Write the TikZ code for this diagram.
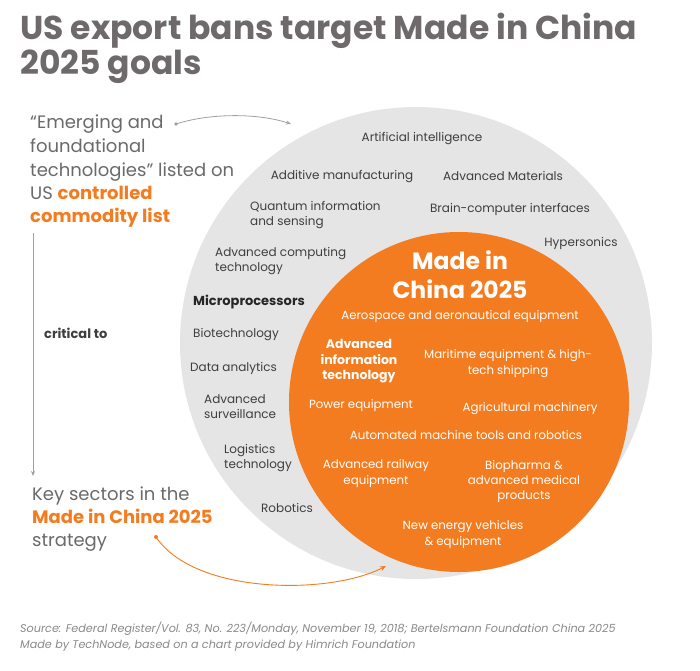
\documentclass[tikz,border=0pt]{standalone}
\usepackage{fontspec}
\setmainfont{Poppins}
\usetikzlibrary{arrows.meta}
\definecolor{corange}{HTML}{F47C20}
\definecolor{cgreyc}{HTML}{E6E5E6}
\definecolor{ctitle}{HTML}{6E6A6B}
\definecolor{cdark}{HTML}{3E3E3E}
\definecolor{clabel}{HTML}{6A6A6A}
\definecolor{cfoot}{HTML}{8A8A8A}
\definecolor{carrow}{HTML}{A0A0A0}
\tikzset{
  gt/.style={font=\fontsize{12}{15}\selectfont, text=cdark, align=center, inner sep=0pt, yshift=-2.5pt},
  gtl/.style={gt, align=left, anchor=west},
  gbl/.style={gt, align=left, anchor=north west},
  wt/.style={font=\fontsize{11.8}{15.2}\selectfont, text=white, align=center, inner sep=0pt, yshift=-2.5pt},
  lab/.style={font=\fontsize{18}{23}\selectfont, text=clabel, inner sep=0pt, anchor=base west},
  ttl/.style={font=\fontsize{33}{35}\selectfont\bfseries, text=ctitle, inner sep=0pt, anchor=base west},
  ft/.style={font=\fontsize{11.2}{16}\selectfont\itshape, text=cfoot, inner sep=0pt, anchor=base west},
}
\begin{document}
\begin{tikzpicture}[x=1pt,y=-1pt]
\useasboundingbox (0,0) rectangle (700,670);
\fill[white] (0,0) rectangle (700,670);
% title
\node[ttl] (title1) at (20,39) {US export bans target Made in China};
\node[ttl] (title2) at (20,74) {2025 goals};
% circles
\fill[cgreyc] (416,343) circle (236);
\fill[corange] (459,402) circle (170);
% grey texts
\node[gt] (ai) at (422,136) {Artificial intelligence};
\node[gt] (am) at (342,174) {Additive manufacturing};
\node[gt] (amat) at (503,173) {Advanced Materials};
\node[gbl] (qi) at (250,199) {Quantum information\\and sensing};
\node[gt] (bci) at (510,207) {Brain-computer interfaces};
\node[gt] (hyp) at (581,241) {Hypersonics};
\node[gbl] (acp) at (215,245) {Advanced computing\\technology};
\node[gtl, font=\fontsize{13}{15}\selectfont\bfseries, text=black!85] (mp) at (193,300) {Microprocessors};
\node[gtl] (bio) at (193,332) {Biotechnology};
\node[gtl] (da) at (190,366) {Data analytics};
\node[gbl] (as) at (204,392) {Advanced\\surveillance};
\node[gbl] (lt) at (224,442) {Logistics\\technology};
\node[gt] (rob) at (287,505) {Robotics};
% orange texts
\node[wt, font=\fontsize{23.5}{29}\selectfont\bfseries] (mic) at (460,272) {Made in\\China 2025};
\node[wt] (aero) at (460,314) {Aerospace and aeronautical equipment};
\node[wt, font=\fontsize{12.5}{15.5}\selectfont\bfseries] (ait) at (359,359) {Advanced\\information\\technology};
\node[wt] (mar) at (508,361) {Maritime equipment \& high-\\tech shipping};
\node[wt] (pow) at (361,403) {Power equipment};
\node[wt] (agr) at (530,406) {Agricultural machinery};
\node[wt] (amt) at (466,433) {Automated machine tools and robotics};
\node[wt] (rail) at (376,471) {Advanced railway\\equipment};
\node[wt] (bph) at (524,479) {Biopharma \&\\advanced medical\\products};
\node[wt] (nev) at (463,532) {New energy vehicles\\\& equipment};
% left labels
\node[lab] (emer1) at (30,128) {“Emerging and};
\node[lab] (emer2) at (30,152) {foundational};
\node[lab] (emer3) at (30,176) {technologies” listed on};
\node[lab] (emer4) at (30,199) {US \textcolor{corange}{\bfseries controlled}};
\node[lab, text=corange, font=\fontsize{18}{23}\selectfont\bfseries] (emer5) at (30,222) {commodity list};
\node[font=\fontsize{13}{15}\selectfont\bfseries, text=cdark, anchor=west, inner sep=0pt] (crit) at (44,333) {critical to};
\node[lab] (key1) at (32,500) {Key sectors in the};
\node[lab, text=corange, font=\fontsize{18}{23}\selectfont\bfseries] (key2) at (32,523) {Made in China 2025};
\node[lab] (key3) at (32,546) {strategy};
% arrows
\coordinate (a1s) at (176,124);
\coordinate (a1e) at (291,124);
\fill[carrow] (a1s) circle (1.8);
\draw[carrow, line width=0.8pt, -{Stealth[length=5pt,width=4pt]}] (a1s) .. controls (210,113) and (258,113) .. (a1e);
\coordinate (v1s) at (33,233);
\coordinate (v1e) at (33,476);
\draw[carrow, line width=0.8pt, -{Stealth[length=5pt,width=4pt]}] (v1s) -- (v1e);
\coordinate (o1s) at (156,537);
\coordinate (o1e) at (386,566);
\fill[corange] (o1s) circle (2);
\draw[corange, line width=0.9pt, -{Stealth[length=6pt,width=5pt]}] (o1s) .. controls (195,595) and (330,595) .. (o1e);
% footer
\node[ft] (foot1) at (20,632) {Source: Federal Register/Vol. 83, No. 223/Monday, November 19, 2018; Bertelsmann Foundation China 2025};
\node[ft] (foot2) at (20,648) {Made by TechNode, based on a chart provided by Himrich Foundation};
\end{tikzpicture}
\end{document}
